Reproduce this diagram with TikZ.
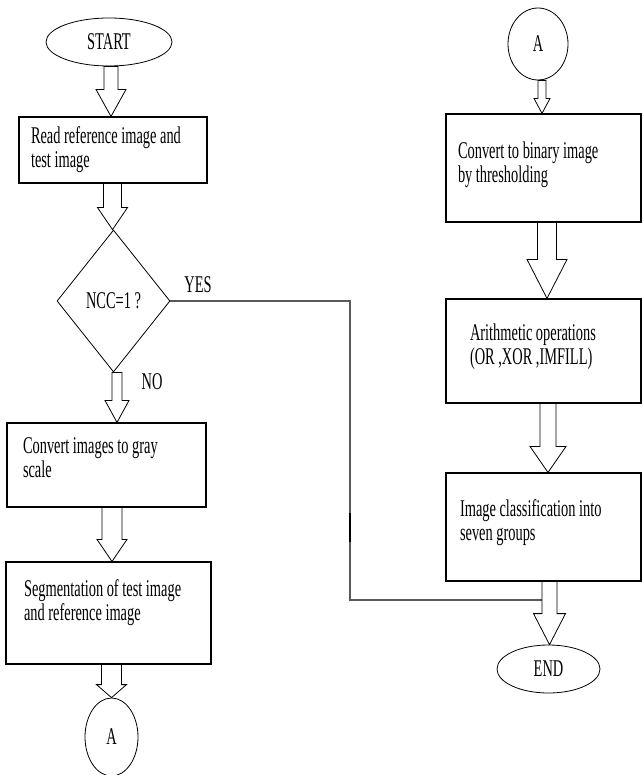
\documentclass[tikz,border=0pt]{standalone}
\usepackage{fontspec}
\setmainfont{Liberation Serif}[FakeStretch=0.6]
\usetikzlibrary{shapes.geometric,calc}

\tikzset{
  every node/.style={font=\fontsize{24}{24}\selectfont},
  procbox/.style={draw, rectangle, line width=1.1pt, align=flush left, inner ysep=0pt},
  liftup/.style={execute at end node={\par\vspace*{#1}}},
  termnode/.style={draw, ellipse, line width=0.8pt, inner sep=0pt},
  decnode/.style={draw, diamond, line width=0.8pt, inner sep=0pt},
  hollow/.style={draw, line width=0.8pt, line join=miter},
  yesline/.style={draw=black!65, line width=1.2pt},
}

% hollow block arrow: [x offset]{from}{to}{shaft half width}{head half width}{head length}
\newcommand{\blockarrow}[6][0]{%
  \draw[hollow] let \p1=(#2), \p2=(#3) in
    (\x2+#1pt-#4pt,\y1) -- (\x2+#1pt-#4pt,\y2+#6pt) -- (\x2+#1pt-#5pt,\y2+#6pt)
    -- (\x2+#1pt,\y2) -- (\x2+#1pt+#5pt,\y2+#6pt) -- (\x2+#1pt+#4pt,\y2+#6pt)
    -- (\x2+#1pt+#4pt,\y1) -- cycle;}

\begin{document}
\begin{tikzpicture}[x=1pt,y=-1pt]
\useasboundingbox (0,0) rectangle (642,775);
% left column
\node[termnode, minimum width=126pt, minimum height=48pt] (start) at (109,42) {START};
\node[procbox, text width=164pt, inner xsep=12pt, minimum height=66pt] (read) at (113,150) {Read reference image and\\test image};
\node[decnode, minimum width=113pt, minimum height=142pt] (ncc) at (113.5,301) {NCC=1 ?};
\node[procbox, text width=167pt, inner xsep=16pt, minimum height=84pt, liftup=14pt] (gray) at (106.5,465) {Convert images to gray\\scale};
\node[procbox, text width=169pt, inner xsep=18pt, minimum height=102pt, liftup=20pt] (segm) at (108.5,613) {Segmentation of test image\\ and reference image};
\node[termnode, minimum width=53pt, minimum height=78pt] (aleft) at (111.5,737) {A};
\node (yeslbl) at (198,285) {YES};
\node (nolbl) at (152,382) {NO};
% right column
\node[termnode, minimum width=60pt, minimum height=72pt] (aright) at (538,44) {A};
\node[procbox, text width=171pt, inner xsep=12pt, minimum height=108pt, liftup=6pt] (binary) at (543.5,168) {Convert to binary image\\ by thresholding};
\node[procbox, text width=147pt, inner xsep=24pt, minimum height=104pt, liftup=8pt] (arith) at (543.5,351) {Arithmetic operations\\(OR ,XOR ,IMFILL)};
\node[procbox, text width=167pt, inner xsep=14pt, minimum height=108pt, liftup=8pt] (classify) at (543.5,527) {Image classification into\\seven groups};
\node[termnode, minimum width=103pt, minimum height=48pt] (end) at (548.5,669) {END};

% YES branch
\coordinate (yesbend) at (350,600);
\coordinate (yesjoin) at (542,600);
\draw[yesline] (ncc.east) -| (yesbend) -- (yesjoin);
\draw[line width=2.2pt] (350,513) -- (350,542);

% block arrows
\blockarrow[-2]{start.south}{read.north}{7}{15}{27}
\blockarrow[-1]{read.south}{ncc.north}{9}{15}{22}
\blockarrow[10.5]{ncc.south}{gray.north}{5}{12}{22}
\blockarrow[3.5]{gray.south}{segm.north}{10}{15}{22}
\blockarrow{segm.south}{aleft.north}{10}{15}{13}
\blockarrow[-1.5]{aright.south}{binary.north}{4}{8}{15}
\blockarrow[3.5]{binary.south}{arith.north}{9.5}{20}{39}
\blockarrow[4.5]{arith.south}{classify.north}{8}{18}{26}
\blockarrow[1]{classify.south}{end.north}{7.5}{16}{31}
\end{tikzpicture}
\end{document}
